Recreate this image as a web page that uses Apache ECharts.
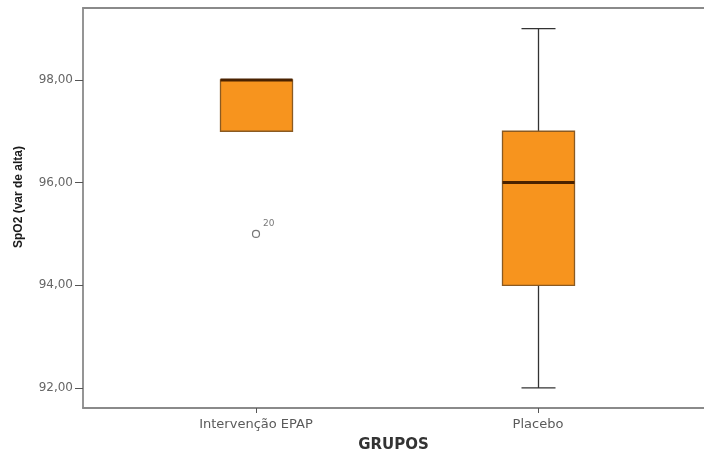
<!DOCTYPE html>
<html>
<head>
<meta charset="utf-8">
<script src="https://cdn.jsdelivr.net/npm/echarts@6/dist/echarts.min.js"></script>
<style>
  html, body { margin: 0; padding: 0; background: #fff; }
  #chart { width: 704px; height: 453px; }
</style>
</head>
<body>
<div id="chart"></div>
<script>
// Groups and five-number summaries of SpO2 at discharge
var categories = ['Intervenção EPAP', 'Placebo'];
var whiskerLow = [97, 92];
var quartile1 = [97, 94];
var medians = [98, 96];
var quartile3 = [98, 97];
var whiskerHigh = [98, 99];
// Outliers: [group index, value, case label]
var outliers = [[0, 95, '20']];
var yTicks = [92, 94, 96, 98];

var FONT = '"Liberation Sans", Arial, sans-serif';
var WIDE_FONT = '"DejaVu Sans", Verdana, sans-serif';
var AXIS_GRAY = '#8a8a8a';

var boxData = categories.map(function (c, i) {
  return [i + 1, whiskerLow[i], quartile1[i], medians[i], quartile3[i], whiskerHigh[i]];
});
var outlierData = outliers.map(function (o) {
  return { value: [o[0] + 1, o[1]], caseLabel: o[2] };
});

var chart = echarts.init(document.getElementById('chart'), null, { renderer: 'canvas' });

chart.setOption({
  animation: false,
  backgroundColor: '#ffffff',
  textStyle: { fontFamily: FONT },
  grid: { left: 83, top: 8, right: 0, bottom: 45, containLabel: false, outerBoundsMode: 'none' },
  xAxis: [{
    type: 'value',
    min: 0.3865,
    max: 2.5887,
    splitLine: { show: false },
    axisLine: { show: true, lineStyle: { color: AXIS_GRAY, width: 1.8 } },
    axisTick: { show: true, customValues: [1, 2], length: 5, lineStyle: { color: '#555', width: 1 } },
    axisLabel: {
      customValues: [1, 2],
      margin: 10,
      color: '#5a5a5a',
      fontSize: 13,
      fontFamily: WIDE_FONT,
      formatter: function (v) { return categories[Math.round(v) - 1] || ''; }
    },
    name: 'GRUPOS',
    nameLocation: 'middle',
    nameGap: 30,
    nameTextStyle: { fontWeight: 'bold', fontSize: 15, color: '#333', fontFamily: WIDE_FONT }
  }, {
    type: 'value',
    position: 'top',
    min: 0.3865,
    max: 2.5887,
    splitLine: { show: false },
    axisLine: { show: true, lineStyle: { color: AXIS_GRAY, width: 1.8 } },
    axisTick: { show: false },
    axisLabel: { show: false }
  }],
  yAxis: {
    type: 'value',
    min: 91.61,
    max: 99.4,
    splitLine: { show: false },
    axisLine: { show: true, lineStyle: { color: AXIS_GRAY, width: 1.8 } },
    axisTick: { show: true, customValues: yTicks, length: 8, lineStyle: { color: '#555', width: 1 } },
    axisLabel: {
      customValues: yTicks,
      margin: 10,
      color: '#666',
      fontSize: 12,
      fontFamily: WIDE_FONT,
      formatter: function (v) { return v.toFixed(2).replace('.', ','); }
    }
  },
  graphic: [{
    type: 'text',
    x: 19,
    y: 197,
    rotation: Math.PI / 2,
    style: {
      text: 'SpO2 (var de alta)',
      font: 'bold 12px ' + FONT,
      fill: '#1a1a1a',
      align: 'center',
      verticalAlign: 'middle'
    }
  }],
  series: [{
    type: 'custom',
    xAxisIndex: 0,
    data: boxData,
    encode: { x: 0, y: [1, 2, 3, 4, 5] },
    renderItem: function (params, api) {
      var x = api.value(0);
      var lo = api.coord([x, api.value(1)]);
      var q1 = api.coord([x, api.value(2)]);
      var med = api.coord([x, api.value(3)]);
      var q3 = api.coord([x, api.value(4)]);
      var hi = api.coord([x, api.value(5)]);
      var cx = Math.round(lo[0]) + 0.5;
      var halfBox = 36;
      var halfCap = 17;
      var lineStyle = { stroke: '#333', lineWidth: 1.3 };
      var children = [];
      if (api.value(1) < api.value(2)) {
        children.push(
          { type: 'line', shape: { x1: cx, y1: lo[1], x2: cx, y2: q1[1] }, style: lineStyle },
          { type: 'line', shape: { x1: cx - halfCap, y1: lo[1], x2: cx + halfCap, y2: lo[1] }, style: lineStyle }
        );
      }
      if (api.value(5) > api.value(4)) {
        children.push(
          { type: 'line', shape: { x1: cx, y1: hi[1], x2: cx, y2: q3[1] }, style: lineStyle },
          { type: 'line', shape: { x1: cx - halfCap, y1: hi[1], x2: cx + halfCap, y2: hi[1] }, style: lineStyle }
        );
      }
      children.push({
        type: 'rect',
        shape: { x: cx - halfBox, y: q3[1], width: halfBox * 2, height: q1[1] - q3[1] },
        style: { fill: '#F7941E', stroke: '#8a5a22', lineWidth: 1.3 }
      });
      children.push({
        type: 'line',
        shape: { x1: cx - halfBox, y1: med[1], x2: cx + halfBox, y2: med[1] },
        style: { stroke: '#4a2200', lineWidth: 3 }
      });
      return { type: 'group', children: children };
    }
  }, {
    type: 'scatter',
    xAxisIndex: 0,
    data: outlierData,
    symbol: 'circle',
    symbolSize: 7,
    itemStyle: { color: '#ffffff', borderColor: '#555', borderWidth: 1.2 },
    label: {
      show: true,
      position: [11, -11],
      formatter: function (p) { return p.data.caseLabel; },
      color: '#555',
      fontSize: 9,
      fontFamily: WIDE_FONT
    }
  }]
});
</script>
</body>
</html>
